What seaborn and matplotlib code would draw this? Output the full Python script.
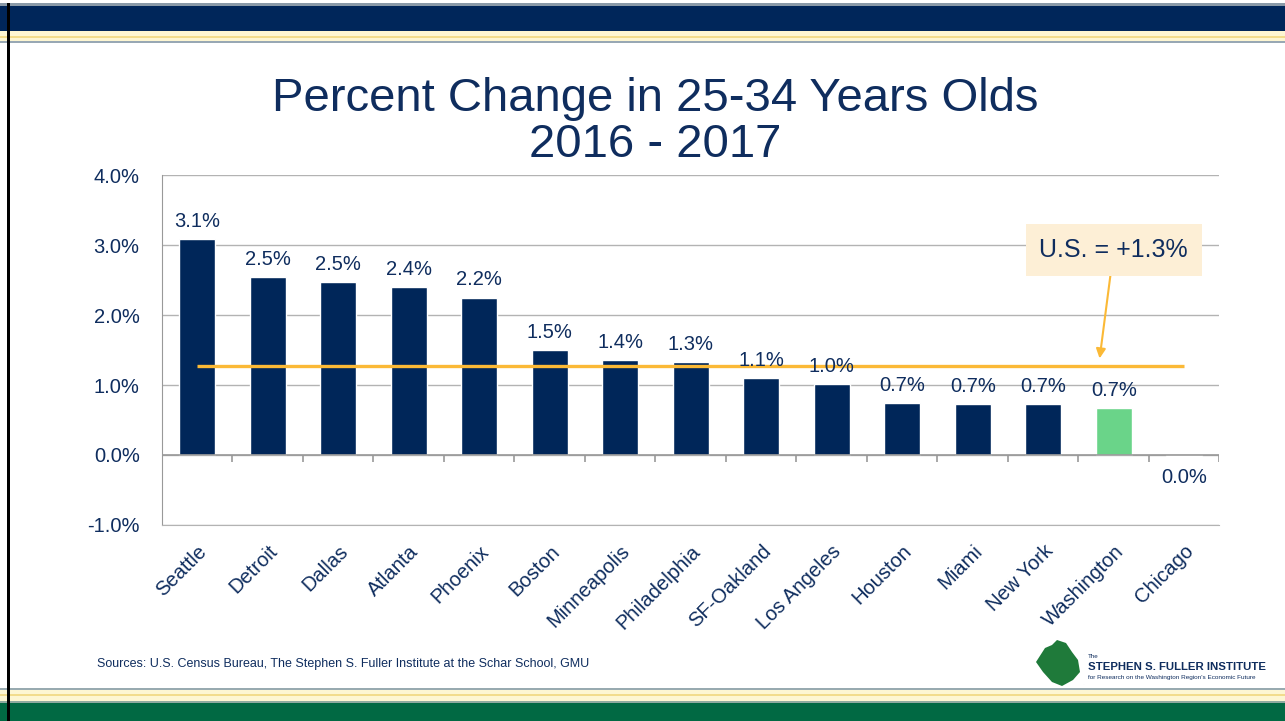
import matplotlib
matplotlib.use("Agg")
import matplotlib.pyplot as plt
from matplotlib.patches import Rectangle, Polygon
import seaborn as sns
import pandas as pd

# Data
cities = ['Seattle', 'Detroit', 'Dallas', 'Atlanta', 'Phoenix', 'Boston',
          'Minneapolis', 'Philadelphia', 'SF-Oakland', 'Los Angeles',
          'Houston', 'Miami', 'New York', 'Washington', 'Chicago']
pct_change = [3.09, 2.54, 2.47, 2.40, 2.25, 1.50, 1.36, 1.33, 1.10, 1.01,
              0.74, 0.73, 0.73, 0.67, -0.01]
labels = ['3.1%', '2.5%', '2.5%', '2.4%', '2.2%', '1.5%', '1.4%', '1.3%',
          '1.1%', '1.0%', '0.7%', '0.7%', '0.7%', '0.7%', '0.0%']
us_avg = 1.27
y_ticks = [-1.0, 0.0, 1.0, 2.0, 3.0, 4.0]

NAVY = '#002659'
TEXT = '#0f2d5e'
GREEN_BAR = '#6ad489'
ORANGE = '#fbb936'
GRID = '#b3b3b3'

df = pd.DataFrame({'city': cities, 'pct': pct_change})
colors = [GREEN_BAR if c == 'Washington' else NAVY for c in cities]

sns.set_style("white")
plt.rcParams['font.family'] = ['Liberation Sans', 'DejaVu Sans']

fig = plt.figure(figsize=(12.85, 7.21), dpi=100)
ax = fig.add_axes([0.126, 0.272, 0.823, 0.485])

sns.barplot(data=df, x='city', y='pct', hue='city', palette=colors,
            width=0.51, legend=False, saturation=1, ax=ax)

ax.set_xlim(-0.5, len(cities) - 0.5)
ax.set_ylim(y_ticks[0], y_ticks[-1])
ax.set_yticks(y_ticks)
ax.set_yticklabels([f'{t:.1f}%' for t in y_ticks])
ax.yaxis.grid(True, color=GRID, linewidth=1)
ax.set_axisbelow(True)
for s in ['top', 'right']:
    ax.spines[s].set_visible(False)
ax.spines['left'].set_color('#999999')
ax.spines['bottom'].set_color(GRID)
ax.tick_params(axis='y', length=6, color='#999999', labelsize=14.5,
               labelcolor=TEXT, pad=10)
ax.tick_params(axis='x', length=0, labelsize=14.5, labelcolor=TEXT, pad=12)
ax.set_xlabel('')
ax.set_ylabel('')
for lab in ax.get_xticklabels():
    lab.set_rotation(45)
    lab.set_ha('right')
    lab.set_rotation_mode('anchor')

# zero axis with category separators
ax.axhline(0, color='#999999', linewidth=1.2, zorder=2)
ax.vlines([i + 0.5 for i in range(-1, len(cities))], -0.1, 0,
          color='#999999', linewidth=1.2, zorder=2)

# U.S. average line
ax.hlines(us_avg, 0, len(cities) - 1, color=ORANGE, linewidth=2.4, zorder=3)

# data labels
for i, (v, t) in enumerate(zip(pct_change, labels)):
    if v >= 0:
        ax.annotate(t, (i, v), xytext=(0, 6), textcoords='offset points',
                    ha='center', va='bottom', fontsize=14.5, color=TEXT,
                    zorder=5)
    else:
        ax.annotate(t, (i, v), xytext=(0, -9), textcoords='offset points',
                    ha='center', va='top', fontsize=14.5, color=TEXT,
                    zorder=5)

# callout
ax.annotate('U.S. = +1.3%', xy=(12.8, us_avg + 0.11), xytext=(13.0, 2.93),
            ha='center', va='center', fontsize=18, color=TEXT,
            bbox=dict(boxstyle='square,pad=0.55', fc='#fdefd6', ec='none'),
            arrowprops=dict(arrowstyle='-|>', color=ORANGE, lw=1.5,
                            shrinkA=0, shrinkB=0, mutation_scale=14))

# title
fig.text(0.51, 1 - 122 / 721, 'Percent Change in 25-34 Years Olds\n2016 - 2017',
         ha='center', va='center', fontsize=34, color=TEXT, linespacing=1.05)

# source
fig.text(97 / 1285, 1 - 664 / 721,
         'Sources: U.S. Census Bureau, The Stephen S. Fuller Institute at the Schar School, GMU',
         ha='left', va='center', fontsize=9, color=TEXT)

# slide frame: bands and stripes
def band(y0, y1, color, x0=0, x1=1285):
    fig.patches.append(Rectangle((x0 / 1285, 1 - y1 / 721), (x1 - x0) / 1285,
                                 (y1 - y0) / 721, transform=fig.transFigure,
                                 facecolor=color, edgecolor='none', zorder=0))

band(3, 6, '#8a9aa8')
band(6, 31, '#00265a')
band(31, 36, '#fdf6d2')
band(36, 38, '#f2dc8c')
band(38, 41, '#fdf6d2')
band(41, 43, '#98a8b4')
band(688, 690, '#98aab0')
band(690, 694, '#fdf6d2')
band(694, 696, '#f2dc8c')
band(696, 701, '#fdf6d2')
band(701, 703, '#8faaa0')
band(703, 721, '#016943')
band(3, 721, '#000000', 7, 10)

# logo
blob = [(1036, 662), (1045, 648), (1052, 645), (1057, 640), (1066, 643),
        (1072, 652), (1078, 660), (1080, 672), (1073, 680), (1062, 686),
        (1052, 682), (1043, 672)]
fig.patches.append(Polygon([(x / 1285, 1 - y / 721) for x, y in blob],
                           closed=True, transform=fig.transFigure,
                           facecolor='#1f7a3a', edgecolor='none'))
fig.patches.append(Rectangle((1083 / 1285, 1 - 684 / 721), 1 / 1285, 30 / 721,
                             transform=fig.transFigure, facecolor='#7a8a9a'))
fig.text(1088 / 1285, 1 - 657 / 721, 'The', fontsize=4.5, color=TEXT,
         ha='left', va='center')
fig.text(1088 / 1285, 1 - 667 / 721, 'STEPHEN S. FULLER INSTITUTE',
         fontsize=8.2, fontweight='bold', color=TEXT, ha='left', va='center')
fig.text(1088 / 1285, 1 - 677 / 721,
         "for Research on the Washington Region's Economic Future",
         fontsize=4.6, color=TEXT, ha='left', va='center')

fig.savefig('out.png', dpi=100)
